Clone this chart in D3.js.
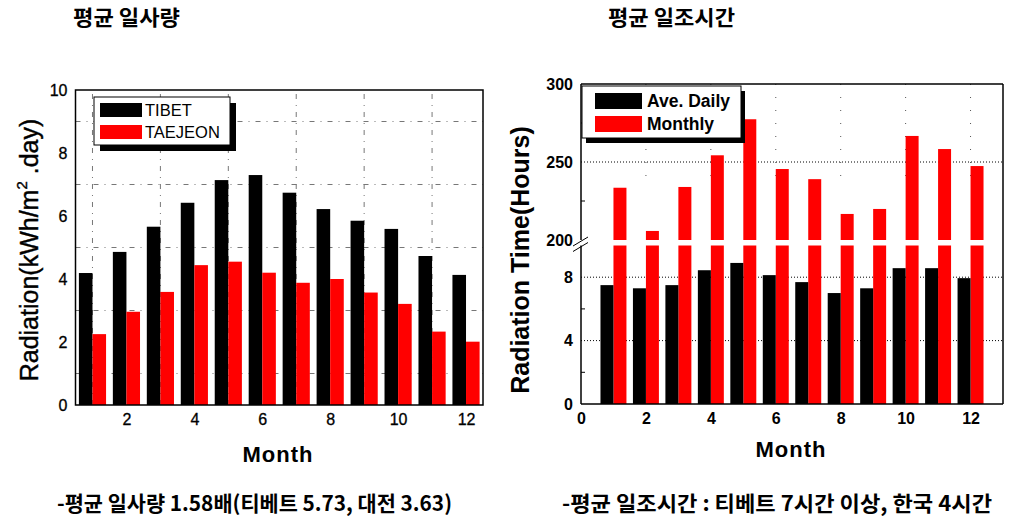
<!DOCTYPE html>
<html><head><meta charset="utf-8">
<script src="https://cdn.jsdelivr.net/npm/d3@7"></script>
<style>
body{margin:0;background:#fff;}
svg{display:block;}
text{font-family:"Liberation Sans",Arial,sans-serif;}
.kr{font-family:"Noto Sans CJK KR",sans-serif;font-weight:bold;}
</style></head>
<body><svg id="c" width="1022" height="520"></svg>
<script>
// ---- data ----
const months = [1,2,3,4,5,6,7,8,9,10,11,12];
const tibet = [4.19,4.86,5.66,6.42,7.14,7.30,6.74,6.22,5.85,5.59,4.73,4.13];
const taejeon = [2.25,2.96,3.59,4.44,4.55,4.20,3.88,4.00,3.57,3.21,2.33,2.01];
const aveDaily = [7.5,7.3,7.5,8.44,8.9,8.13,7.69,7.0,7.3,8.57,8.57,7.94];
const monthlyHours = [233.5,205.8,234,254.3,277.4,245.5,239,216.7,219.9,266.7,258.3,247.4];
const leftYTicks = [0,2,4,6,8,10];
const leftXTicks = [2,4,6,8,10,12];
const rightXTicks = [0,2,4,6,8,10,12];
const rightLowTicks = [0,4,8];
const rightHighTicks = [200,250,300];
const leftLegend = ["TIBET","TAEJEON"];
const rightLegend = ["Ave. Daily","Monthly"];
const titles = ["평균 일사량","평균 일조시간"];
const notes = ["-평균 일사량 1.58배(티베트 5.73, 대전 3.63)","-평균 일조시간 : 티베트 7시간 이상,  한국 4시간"];

const svg = d3.select("#c");
const RED = "#ff0000";

// ---- LEFT CHART ----
const xL = d3.scaleLinear().domain([0.5,12.5]).range([75.5,483]);
const yL = d3.scaleLinear().domain([0,10]).range([405,90]);
const gL = svg.append("g");
// grid (odd values)
gL.selectAll(".hg").data([1,3,5,7,9]).join("line")
  .attr("x1",xL(0.5)).attr("x2",xL(12.5)).attr("y1",d=>yL(d)).attr("y2",d=>yL(d))
  .attr("stroke","#777").attr("stroke-width",1).attr("stroke-dasharray","5,6,1,6");
gL.selectAll(".vg").data([1,3,5,7,9,11]).join("line")
  .attr("y1",yL(0)).attr("y2",yL(10)).attr("x1",d=>xL(d)).attr("x2",d=>xL(d))
  .attr("stroke","#777").attr("stroke-width",1).attr("stroke-dasharray","5,6,1,6");
const bw = 0.4;
gL.selectAll(".tb").data(months).join("rect")
  .attr("x",d=>xL(d-bw)).attr("width",d=>xL(d)-xL(d-bw))
  .attr("y",(d,i)=>yL(tibet[i])).attr("height",(d,i)=>yL(0)-yL(tibet[i])).attr("fill","#000");
gL.selectAll(".tj").data(months).join("rect")
  .attr("x",d=>xL(d)).attr("width",d=>xL(d+bw)-xL(d))
  .attr("y",(d,i)=>yL(taejeon[i])).attr("height",(d,i)=>yL(0)-yL(taejeon[i])).attr("fill",RED);
gL.append("rect").attr("x",xL(0.5)).attr("y",yL(10)).attr("width",xL(12.5)-xL(0.5)).attr("height",yL(0)-yL(10))
  .attr("fill","none").attr("stroke","#000").attr("stroke-width",1.5);
const axL = gL.append("g").attr("transform",`translate(${xL(0.5)},0)`)
  .call(d3.axisLeft(yL).tickValues(leftYTicks).tickSize(0).tickPadding(8));
axL.select(".domain").remove();
axL.selectAll("text").attr("font-size",16).attr("fill","#000").attr("stroke","#000").attr("stroke-width",0.3).attr("font-family","Liberation Sans, Arial, sans-serif");
const axLx = gL.append("g").attr("transform",`translate(0,${yL(0)})`)
  .call(d3.axisBottom(xL).tickValues(leftXTicks).tickSize(0).tickPadding(9));
axLx.select(".domain").remove();
axLx.selectAll("text").attr("font-size",16).attr("fill","#000").attr("stroke","#000").attr("stroke-width",0.3).attr("font-family","Liberation Sans, Arial, sans-serif");
gL.append("text").attr("x",278).attr("y",462).attr("text-anchor","middle").attr("font-size",22)
  .attr("font-weight","bold").attr("letter-spacing",1).text("Month");
const yl = gL.append("text").attr("transform","translate(38,250) rotate(-90)").attr("text-anchor","middle").attr("font-size",25)
  .attr("stroke","#000").attr("stroke-width",0.4);
yl.append("tspan").text("Radiation(kWh/m");
yl.append("tspan").attr("font-size",15).attr("dy",-11).text("2");
yl.append("tspan").attr("dy",11).text(" .day)");
// legend
gL.append("rect").attr("x",100).attr("y",103).attr("width",136).attr("height",48).attr("fill","#000");
gL.append("rect").attr("x",94).attr("y",97).attr("width",136).attr("height",48).attr("fill","#fff").attr("stroke","#000").attr("stroke-width",1);
leftLegend.forEach((t,i)=>{
  gL.append("rect").attr("x",100).attr("y",103+i*22).attr("width",42).attr("height",14).attr("fill",i?RED:"#000");
  gL.append("text").attr("x",145).attr("y",116+i*22).attr("font-size",16.5).text(t);
});

// ---- RIGHT CHART ----
const xR = d3.scaleLinear().domain([0,13]).range([581,1003]);
const yLow = d3.scaleLinear().domain([0,10]).range([404,245.5]);
const yHigh = d3.scaleLinear().domain([200,300]).range([240,84]);
const gR = svg.append("g");
const dot = "1,2";
gR.selectAll(".hg1").data([250]).join("line")
  .attr("x1",xR(0)).attr("x2",xR(13)).attr("y1",d=>yHigh(d)).attr("y2",d=>yHigh(d))
  .attr("stroke","#000").attr("stroke-dasharray",dot);
gR.selectAll(".hg2").data([4,8]).join("line")
  .attr("x1",xR(0)).attr("x2",xR(13)).attr("y1",d=>yLow(d)).attr("y2",d=>yLow(d))
  .attr("stroke","#000").attr("stroke-dasharray",dot);
gR.selectAll(".vg").data([2,4,6,8,10,12]).join("line")
  .attr("x1",d=>xR(d)).attr("x2",d=>xR(d)).attr("y1",yHigh(300)).attr("y2",yHigh(235))
  .attr("stroke","#555").attr("stroke-dasharray","1,12");
// red bars: upper segment & lower segment
gR.selectAll(".mh").data(months).join("rect")
  .attr("x",d=>xR(d)).attr("width",d=>xR(d+bw)-xR(d))
  .attr("y",(d,i)=>yHigh(monthlyHours[i])).attr("height",(d,i)=>yHigh(200)-yHigh(monthlyHours[i])).attr("fill",RED);
gR.selectAll(".mhl").data(months).join("rect")
  .attr("x",d=>xR(d)).attr("width",d=>xR(d+bw)-xR(d))
  .attr("y",yLow(10)).attr("height",yLow(0)-yLow(10)).attr("fill",RED);
gR.selectAll(".ad").data(months).join("rect")
  .attr("x",d=>xR(d-bw)).attr("width",d=>xR(d)-xR(d-bw))
  .attr("y",(d,i)=>yLow(aveDaily[i])).attr("height",(d,i)=>yLow(0)-yLow(aveDaily[i])).attr("fill","#000");
// frame with break on left axis
const fr = gR.append("g").attr("stroke","#000").attr("stroke-width",1.5).attr("fill","none");
fr.append("line").attr("x1",xR(0)).attr("x2",xR(13)).attr("y1",yHigh(300)).attr("y2",yHigh(300));
fr.append("line").attr("x1",xR(0)).attr("x2",xR(13)).attr("y1",yLow(0)).attr("y2",yLow(0));
fr.append("line").attr("x1",xR(13)).attr("x2",xR(13)).attr("y1",yHigh(300)).attr("y2",yLow(0));
fr.append("line").attr("x1",xR(0)).attr("x2",xR(0)).attr("y1",yHigh(300)).attr("y2",yHigh(200));
fr.append("line").attr("x1",xR(0)).attr("x2",xR(0)).attr("y1",yLow(10)).attr("y2",yLow(0));
fr.append("line").attr("x1",xR(0)-8).attr("x2",xR(0)+7).attr("y1",yHigh(200)+6).attr("y2",yHigh(200)-3).attr("stroke-width",1);
fr.append("line").attr("x1",xR(0)-8).attr("x2",xR(0)+7).attr("y1",yLow(10)+6).attr("y2",yLow(10)-3).attr("stroke-width",1);
// minor ticks
gR.selectAll(".mt1").data([225,275]).join("line").attr("x1",xR(0)).attr("x2",xR(0)+4)
  .attr("y1",d=>yHigh(d)).attr("y2",d=>yHigh(d)).attr("stroke","#000");
gR.selectAll(".mt2").data([2,6]).join("line").attr("x1",xR(0)).attr("x2",xR(0)+4)
  .attr("y1",d=>yLow(d)).attr("y2",d=>yLow(d)).attr("stroke","#000");
const styleAx = sel=>{sel.select(".domain").remove();sel.selectAll("text").attr("font-size",16).attr("font-weight","bold").attr("fill","#000").attr("font-family","Liberation Sans, Arial, sans-serif");};
gR.append("g").attr("transform",`translate(${xR(0)},0)`).call(d3.axisLeft(yHigh).tickValues(rightHighTicks).tickSize(0).tickPadding(8)).call(styleAx);
gR.append("g").attr("transform",`translate(${xR(0)},0)`).call(d3.axisLeft(yLow).tickValues(rightLowTicks).tickSize(0).tickPadding(8)).call(styleAx);
gR.append("g").attr("transform",`translate(0,${yLow(0)})`).call(d3.axisBottom(xR).tickValues(rightXTicks).tickSize(0).tickPadding(9)).call(styleAx);
gR.append("text").attr("x",791).attr("y",457).attr("text-anchor","middle").attr("font-size",22)
  .attr("font-weight","bold").attr("letter-spacing",1).text("Month");
gR.append("text").attr("transform","translate(529,260) rotate(-90)").attr("text-anchor","middle").attr("font-size",25)
  .attr("font-weight","bold").text("Radiation Time(Hours)");
// legend
gR.append("rect").attr("x",586).attr("y",91).attr("width",159).attr("height",52).attr("fill","#000");
gR.append("rect").attr("x",582).attr("y",86).attr("width",159).attr("height",52).attr("fill","#fff").attr("stroke","#000").attr("stroke-width",1);
rightLegend.forEach((t,i)=>{
  gR.append("rect").attr("x",595).attr("y",93+i*23).attr("width",47).attr("height",16).attr("fill",i?RED:"#000");
  gR.append("text").attr("x",647).attr("y",107+i*23).attr("font-size",17.5).attr("font-weight","bold").text(t);
});

// titles and notes
svg.append("text").attr("class","kr").attr("x",73).attr("y",25).attr("font-size",21)
  .attr("textLength",107).attr("lengthAdjust","spacingAndGlyphs").text(titles[0]);
svg.append("text").attr("class","kr").attr("x",608).attr("y",25).attr("font-size",21)
  .attr("textLength",127).attr("lengthAdjust","spacingAndGlyphs").text(titles[1]);
svg.append("text").attr("class","kr").attr("x",57).attr("y",511).attr("font-size",21)
  .attr("textLength",395).attr("lengthAdjust","spacingAndGlyphs").text(notes[0]);
svg.append("text").attr("class","kr").attr("x",562).attr("y",511).attr("font-size",21)
  .attr("textLength",430).attr("lengthAdjust","spacingAndGlyphs").text(notes[1]);
</script></body></html>
